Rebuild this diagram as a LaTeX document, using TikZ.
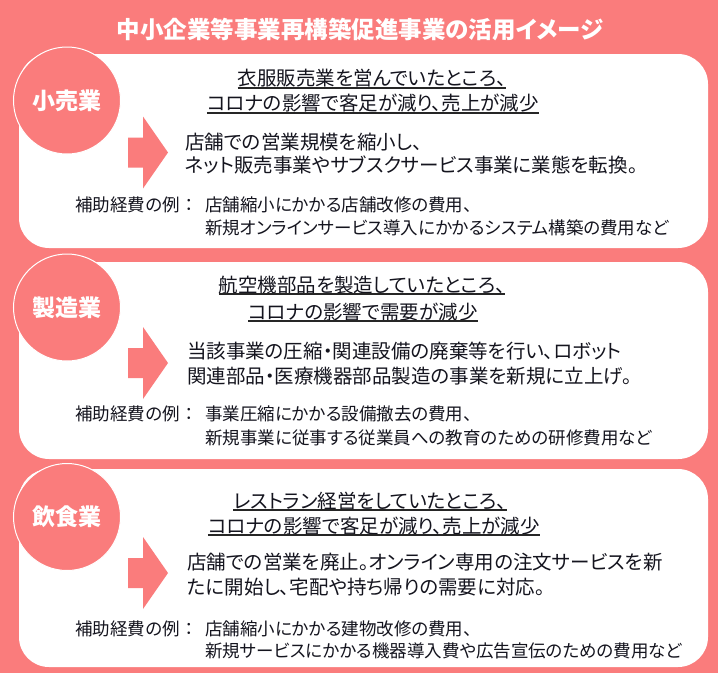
\documentclass[tikz,border=0pt]{standalone}
\usepackage{fontspec}
\newfontfamily\jpfont[RawFeature=+palt]{Noto Sans CJK JP}
\newfontfamily\jpfontwide{Noto Sans CJK JP}
\definecolor{salmon}{RGB}{250,124,124}
\definecolor{inktext}{RGB}{20,20,30}

\begin{document}
\begin{tikzpicture}[x=1pt,y=-1pt,
	titletext/.style={font=\jpfont\bfseries\fontsize{23.5}{28}\selectfont, text=white, inner sep=0},
	badge/.style={circle, fill=salmon, draw=white, line width=1pt, minimum size=107pt, inner sep=0,
		font=\jpfont\bfseries\fontsize{23}{28}\selectfont, text=white},
	headtext/.style={font=\jpfont\fontsize{19.5}{24}\selectfont, text=inktext, inner sep=0},
	bodytext/.style={font=\jpfont\fontsize{19.5}{24}\selectfont, text=inktext, inner sep=0, anchor=west},
	exampletext/.style={font=\jpfont\fontsize{17.5}{21}\selectfont, text=inktext, inner sep=0, anchor=west},
	exlabel/.style={exampletext, font=\jpfontwide\fontsize{17.5}{21}\selectfont},
	uline/.style={draw=black!85, line width=1.2pt},
	panel/.style={fill=white, rounded corners=30pt},
	turnarrow/.style={fill=salmon}]

	%declare constants
	\def\panelL{19}
	\def\panelR{708}
	\def\badgeX{67}
	\def\exLabelX{75}
	\def\exTextX{205}

	%whole background
	\fill[salmon] (0,0) rectangle (718,673);
	\useasboundingbox (0,0) rectangle (718,673);
	\node[titletext] (title) at (360,30) {中小企業等事業再構築促進事業の活用イメージ};

	%white panels
	\fill[panel] (\panelL,54) rectangle (\panelR,248);
	\fill[panel] (\panelL,262) rectangle (\panelR,459);
	\fill[panel] (\panelL,469) rectangle (\panelR,667);

	%turn arrows, tip at the origin of each scope
	\begin{scope}[shift={(0,152.5)}]
		\fill[turnarrow] (128,-15) -- (143,-15) -- (143,-36) -- (168,0) -- (143,36) -- (143,15) -- (128,15) -- cycle;
	\end{scope}
	\begin{scope}[shift={(0,363)}]
		\fill[turnarrow] (128,-15) -- (143,-15) -- (143,-36) -- (168,0) -- (143,36) -- (143,15) -- (128,15) -- cycle;
	\end{scope}
	\begin{scope}[shift={(0,573)}]
		\fill[turnarrow] (128,-15) -- (143,-15) -- (143,-36) -- (168,0) -- (143,36) -- (143,15) -- (128,15) -- cycle;
	\end{scope}

	%retail
	\node[badge] (retail) at (\badgeX,100.5) {小売業};
	\node[headtext] (retailHeadA) at (372,78) {衣服販売業を営んでいたところ、};
	\node[headtext] (retailHeadB) at (373,103) {コロナの影響で客足が減り、売上が減少};
	\draw[uline] (retailHeadA.west |- 0,88) -- (retailHeadA.east |- 0,88);
	\draw[uline] (retailHeadB.west |- 0,113) -- (retailHeadB.east |- 0,113);
	\node[bodytext] (retailBodyA) at (185,142) {店舗での営業規模を縮小し、};
	\node[bodytext] (retailBodyB) at (185,165) {ネット販売事業やサブスクサービス事業に業態を転換。};
	\node[exlabel] (retailExLabel) at (\exLabelX,205) {補助経費の例：};
	\node[exampletext] (retailExA) at (\exTextX,205) {店舗縮小にかかる店舗改修の費用、};
	\node[exampletext] (retailExB) at (\exTextX,228) {新規オンラインサービス導入にかかるシステム構築の費用など};

	%manufacturing
	\node[badge] (maker) at (\badgeX,307.5) {製造業};
	\node[headtext] (makerHeadA) at (362,285) {航空機部品を製造していたところ、};
	\node[headtext] (makerHeadB) at (363,312) {コロナの影響で需要が減少};
	\draw[uline] (makerHeadA.west |- 0,294) -- (makerHeadA.east |- 0,294);
	\draw[uline] (makerHeadB.west |- 0,321) -- (makerHeadB.east |- 0,321);
	\node[bodytext] (makerBodyA) at (187,351) {当該事業の圧縮・関連設備の廃棄等を行い、ロボット};
	\node[bodytext] (makerBodyB) at (187,376) {関連部品・医療機器部品製造の事業を新規に立上げ。};
	\node[exlabel] (makerExLabel) at (\exLabelX,414) {補助経費の例：};
	\node[exampletext] (makerExA) at (\exTextX,414) {事業圧縮にかかる設備撤去の費用、};
	\node[exampletext] (makerExB) at (\exTextX,438) {新規事業に従事する従業員への教育のための研修費用など};

	%restaurant
	\node[badge] (diner) at (\badgeX,517) {飲食業};
	\node[headtext] (dinerHeadA) at (370,501) {レストラン経営をしていたところ、};
	\node[headtext] (dinerHeadB) at (374,526) {コロナの影響で客足が減り、売上が減少};
	\draw[uline] (dinerHeadA.west |- 0,510) -- (dinerHeadA.east |- 0,510);
	\draw[uline] (dinerHeadB.west |- 0,535) -- (dinerHeadB.east |- 0,535);
	\node[bodytext] (dinerBodyA) at (187,562) {店舗での営業を廃止。オンライン専用の注文サービスを新};
	\node[bodytext] (dinerBodyB) at (187,587) {たに開始し、宅配や持ち帰りの需要に対応。};
	\node[exlabel] (dinerExLabel) at (\exLabelX,629) {補助経費の例：};
	\node[exampletext] (dinerExA) at (\exTextX,629) {店舗縮小にかかる建物改修の費用、};
	\node[exampletext] (dinerExB) at (\exTextX,651) {新規サービスにかかる機器導入費や広告宣伝のための費用など};

\end{tikzpicture}
\end{document}
